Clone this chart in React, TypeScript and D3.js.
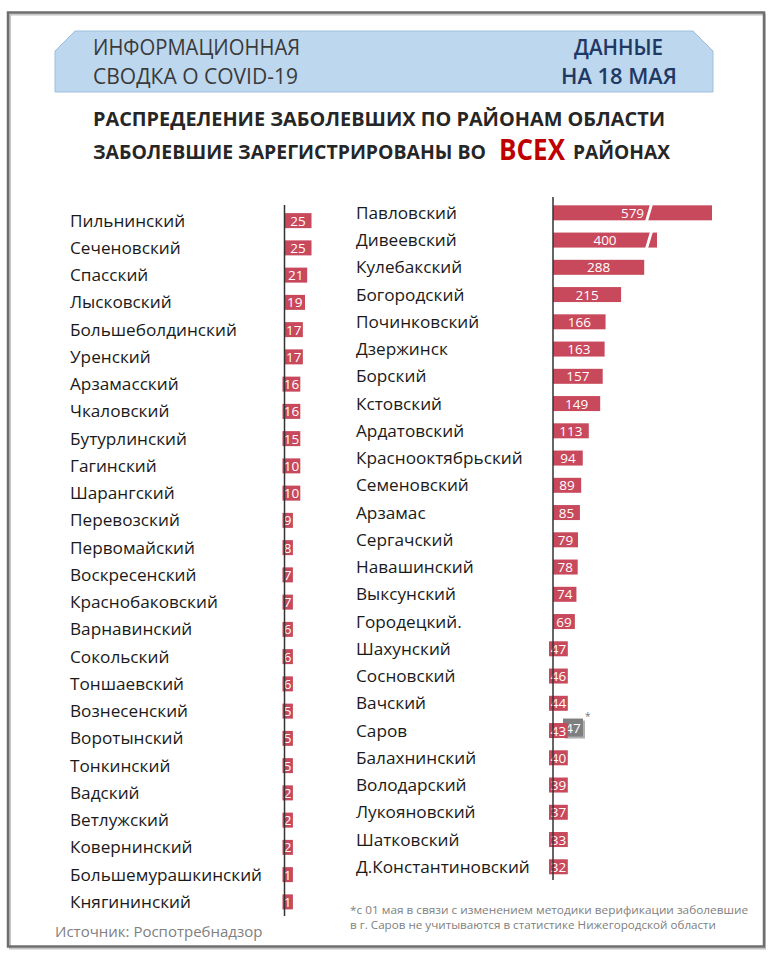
import React from "react";
import * as d3 from "d3";

const leftNames = [
  "Пильнинский", "Сеченовский", "Спасский", "Лысковский", "Большеболдинский",
  "Уренский", "Арзамасский", "Чкаловский", "Бутурлинский", "Гагинский",
  "Шарангский", "Перевозский", "Первомайский", "Воскресенский", "Краснобаковский",
  "Варнавинский", "Сокольский", "Тоншаевский", "Вознесенский", "Воротынский",
  "Тонкинский", "Вадский", "Ветлужский", "Ковернинский", "Большемурашкинский",
  "Княгининский",
];
const leftValues = [25, 25, 21, 19, 17, 17, 16, 16, 15, 10, 10, 9, 8, 7, 7, 6, 6, 6, 5, 5, 5, 2, 2, 2, 1, 1];

const rightNames = [
  "Павловский", "Дивеевский", "Кулебакский", "Богородский", "Починковский",
  "Дзержинск", "Борский", "Кстовский", "Ардатовский", "Краснооктябрьский",
  "Семеновский", "Арзамас", "Сергачский", "Навашинский", "Выксунский",
  "Городецкий.", "Шахунский", "Сосновский", "Вачский", "Саров",
  "Балахнинский", "Володарский", "Лукояновский", "Шатковский", "Д.Константиновский",
];
const rightValues = [579, 400, 288, 215, 166, 163, 157, 149, 113, 94, 89, 85, 79, 78, 74, 69, 47, 46, 44, 43, 40, 39, 37, 33, 32];

// Саров: значение по старой методике (серая метка со звёздочкой)
const sarovName = "Саров";
const sarovOld = 47;

const FONT = "'Open Sans', 'Noto Sans', sans-serif";
const BAR = "#c8495b";

export default function App() {
  const W = 768, H = 960;

  const leftAxisX = 284.5;
  const rightAxisX = 553;
  const barH = 15;

  const yL = d3.scaleBand<string>().domain(leftNames).range([207, 915.5]);
  const yR = d3.scaleBand<string>().domain(rightNames).range([199.2, 880.4]);

  const xL = d3.scaleLinear().domain([0, 25]).range([0, 27]);
  // broken axis: values above 300 are cut
  const xR = d3.scaleLinear().domain([0, 300, 400, 579]).range([0, 95, 104, 159]);
  const breakAt = 300;

  const digitW = 7.4;

  const leftBars = leftNames.map((n, i) => {
    const v = leftValues[i];
    const cy = (yL(n) as number) + yL.bandwidth() / 2;
    const bw = xL(v);
    const tw = String(v).length * digitW + 3;
    const fits = bw >= tw;
    const x0 = fits ? leftAxisX : leftAxisX - 2;
    const w = fits ? bw : tw;
    return { n, v, cy, x0, w };
  });

  const rightBars = rightNames.map((n, i) => {
    const v = rightValues[i];
    const cy = (yR(n) as number) + yR.bandwidth() / 2;
    const bw = xR(v);
    const tw = String(v).length * digitW + 4;
    const fits = bw >= tw + 2;
    const x0 = fits ? rightAxisX : rightAxisX - 4;
    const w = fits ? bw : tw;
    return { n, v, cy, x0, w, broken: v > breakAt };
  });

  const sarovCy = (yR(sarovName) as number) + yR.bandwidth() / 2;
  const breakX = rightAxisX + xR(breakAt);

  return (
    <svg width={W} height={H} style={{ position: "absolute", left: 0, top: 0, background: "#fff" }}>
      <rect x={0} y={0} width={W} height={H} fill="#fff" />
      {/* frame */}
      <rect x={10} y={14.5} width={755} height={934} fill="none" stroke="#c4c4c4" strokeWidth={2} />
      <rect x={8} y={12.5} width={756} height={934} fill="none" stroke="#6e6e6e" strokeWidth={2.5} />

      {/* header banner */}
      <path d="M55,51 L75,31 L693,31 L713,51 L713,92 L55,92 Z" fill="#bdd7ee" stroke="#9fbfdc" strokeWidth={1} />
      <text x={93} y={55} fontFamily={FONT} fontSize={21} fill="#3a3a3a" textLength={207} lengthAdjust="spacingAndGlyphs">ИНФОРМАЦИОННАЯ</text>
      <text x={93} y={84} fontFamily={FONT} fontSize={21} fill="#3a3a3a" textLength={205} lengthAdjust="spacingAndGlyphs">СВОДКА О COVID-19</text>
      <text x={574} y={55} fontFamily={FONT} fontSize={21} fontWeight={600} fill="#1f3864" textLength={89} lengthAdjust="spacingAndGlyphs">ДАННЫЕ</text>
      <text x={561} y={84} fontFamily={FONT} fontSize={21} fontWeight={600} fill="#1f3864" textLength={116} lengthAdjust="spacingAndGlyphs">НА 18 МАЯ</text>

      {/* titles */}
      <text x={93} y={126} fontFamily={FONT} fontSize={20} fontWeight={700} fill="#262626" textLength={572} lengthAdjust="spacingAndGlyphs">РАСПРЕДЕЛЕНИЕ  ЗАБОЛЕВШИХ ПО РАЙОНАМ ОБЛАСТИ</text>
      <text x={93} y={159} fontFamily={FONT} fontSize={20} fontWeight={700} fill="#262626" textLength={393} lengthAdjust="spacingAndGlyphs">ЗАБОЛЕВШИЕ ЗАРЕГИСТРИРОВАНЫ ВО</text>
      <text x={499} y={160} fontFamily={FONT} fontSize={28} fontWeight={700} fill="#c00000" textLength={66} lengthAdjust="spacingAndGlyphs">ВСЕХ</text>
      <text x={573} y={159} fontFamily={FONT} fontSize={20} fontWeight={700} fill="#262626" textLength={97} lengthAdjust="spacingAndGlyphs">РАЙОНАХ</text>

      {/* left column */}
      {leftBars.map((b) => (
        <g key={"l" + b.n}>
          <text x={70} y={b.cy + 6} fontFamily={FONT} fontSize={17.2} fill="#1a1a1a">{b.n}</text>
          <rect x={b.x0} y={b.cy - barH / 2} width={b.w} height={barH} fill={BAR} />
          <text x={b.x0 + b.w / 2} y={b.cy + 5} textAnchor="middle" fontFamily={FONT} fontSize={13.5} fill="#fff">{b.v}</text>
        </g>
      ))}
      <line x1={leftAxisX} x2={leftAxisX} y1={205} y2={916} stroke="#333" strokeWidth={1.5} />

      {/* right column */}
      <rect x={rightAxisX + 12} y={sarovCy - 10} width={20} height={18} fill="#b0b0b0" />
      <rect x={rightAxisX + 10} y={sarovCy - 12} width={20} height={18} fill="#7f7f7f" />
      <text x={rightAxisX + 20} y={sarovCy + 2} textAnchor="middle" fontFamily={FONT} fontSize={13.5} fill="#fff">{sarovOld}</text>
      <text x={rightAxisX + 32} y={sarovCy - 11} fontFamily={FONT} fontSize={10} fill="#777">*</text>
      {rightBars.map((b) => (
        <g key={"r" + b.n}>
          <text x={356} y={b.cy + 6} fontFamily={FONT} fontSize={17.2} fill="#1a1a1a">{b.n}</text>
          <rect x={b.x0} y={b.cy - barH / 2} width={b.w} height={barH} fill={BAR} />
          {b.broken && (
            <polygon
              points={`${breakX + 2},${b.cy - barH / 2 - 1} ${breakX + 5},${b.cy - barH / 2 - 1} ${breakX},${b.cy + barH / 2 + 1} ${breakX - 3},${b.cy + barH / 2 + 1}`}
              fill="#fff"
            />
          )}
          <text x={b.x0 + b.w / 2} y={b.cy + 5} textAnchor="middle" fontFamily={FONT} fontSize={13.5} fill="#fff">{b.v}</text>
        </g>
      ))}
      <line x1={rightAxisX} x2={rightAxisX} y1={197} y2={880} stroke="#333" strokeWidth={1.5} />

      {/* footnote */}
      <text x={350} y={914} fontFamily={FONT} fontSize={11} fill="#808080" textLength={398} lengthAdjust="spacingAndGlyphs">*с 01 мая в связи с изменением  методики верификации  заболевшие</text>
      <text x={350} y={929} fontFamily={FONT} fontSize={11} fill="#808080" textLength={366} lengthAdjust="spacingAndGlyphs">в г. Саров не учитываются в статистике Нижегородской области</text>

      {/* source */}
      <text x={55} y={937} fontFamily={FONT} fontSize={15} fill="#808080">Источник: Роспотребнадзор</text>
    </svg>
  );
}
